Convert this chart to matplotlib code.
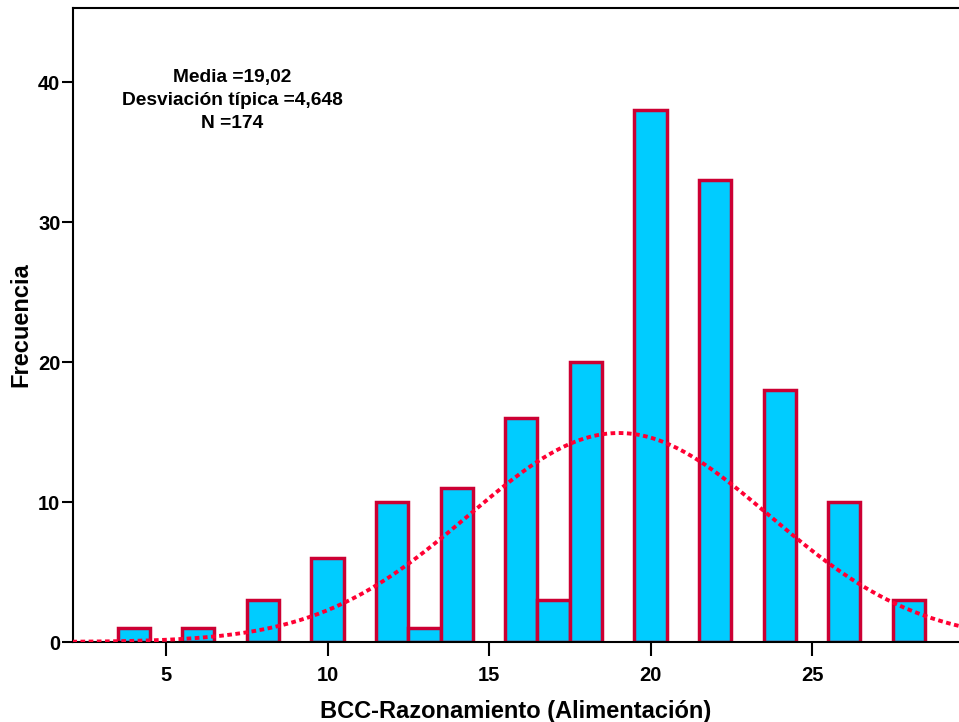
import numpy as np
import matplotlib
matplotlib.use("Agg")
from matplotlib import pyplot as plt

plt.rcParams['font.family'] = ['Liberation Sans', 'DejaVu Sans']
plt.rcParams['font.weight'] = 'bold'

# histogram data (bin centers, frequencies)
centers = [4, 6, 8, 10, 12, 13, 14, 16, 17, 18, 20, 22, 24, 26, 28]
counts = [1, 1, 3, 6, 10, 1, 11, 16, 3, 20, 38, 33, 18, 10, 3]
media = 19.02
sd = 4.648
n = 174

fig = plt.figure(figsize=(9.59, 7.22), dpi=100)
ax = fig.add_axes([0.0761, 0.1108, 0.9239, 0.878])

ax.bar(centers, counts, width=1.0, color='#00CCFF', edgecolor='#CC0033',
       linewidth=2.5, zorder=2)

# normal curve from the reported mean / sd / N (bin width 1)
xs = np.linspace(2.1, 29.6, 400)
ys = n * 1.0 / (sd * np.sqrt(2 * np.pi)) * np.exp(-0.5 * ((xs - media) / sd) ** 2)
ax.plot(xs, ys, color='#FF0033', linewidth=2.8, linestyle=(0, (1.2, 0.9)), zorder=3)

ax.set_xlim(2.12, 29.55)
ax.set_ylim(0, 45.3)
ax.set_xticks([5, 10, 15, 20, 25])
ax.set_yticks([0, 10, 20, 30, 40])
ax.tick_params(axis='both', direction='out', width=1.5, labelsize=14.5)
ax.tick_params(axis='x', length=10, pad=7)
ax.tick_params(axis='y', length=8, pad=1)
for lab in ax.get_xticklabels() + ax.get_yticklabels():
    lab.set_fontweight('bold')

for s in ['left', 'bottom', 'top']:
    ax.spines[s].set_linewidth(1.5)
ax.spines['right'].set_visible(False)

ax.set_xlabel('BCC-Razonamiento (Alimentación)', fontsize=17, fontweight='bold', labelpad=11)
ax.set_ylabel('Frecuencia', fontsize=17, fontweight='bold', labelpad=4)

ax.text(0.18, 0.904, 'Media =19,02\nDesviación típica =4,648\nN =174',
        transform=ax.transAxes, ha='center', va='top', fontsize=13.8,
        fontweight='bold', linespacing=1.45)

fig.savefig('out.png', dpi=100)
